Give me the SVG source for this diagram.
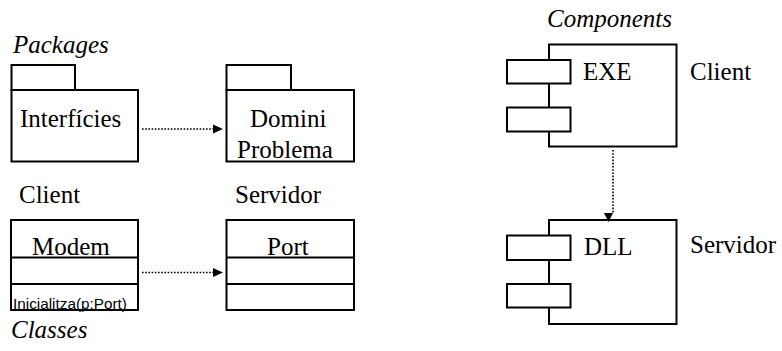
<svg xmlns="http://www.w3.org/2000/svg" width="782" height="351" viewBox="0 0 782 351">
  <rect width="782" height="351" fill="#fff"/>

  <!-- section titles and stereotype labels -->
  <text font-family="Liberation Serif" font-size="25" font-style="italic" x="13" y="53">Packages</text>
  <text font-family="Liberation Serif" font-size="25" x="19" y="203">Client</text>
  <text font-family="Liberation Serif" font-size="25" x="235" y="203">Servidor</text>
  <text font-family="Liberation Serif" font-size="25" font-style="italic" x="11" y="338">Classes</text>
  <text font-family="Liberation Serif" font-size="25" font-style="italic" x="547" y="27">Components</text>
  <text font-family="Liberation Serif" font-size="25" x="690" y="80">Client</text>
  <text font-family="Liberation Serif" font-size="25" x="690" y="253">Servidor</text>

  <!-- boxes share a 2px black outline on white -->
  <g fill="#fff" stroke="#000" stroke-width="2">
    <!-- package: Interfícies -->
    <g id="pkg-interficies">
      <rect x="11.5" y="65" width="63.5" height="25"/>
      <rect x="11.5" y="90" width="126.5" height="71.5"/>
      <text font-family="Liberation Serif" font-size="25" fill="#000" stroke="none" x="20" y="127">Interfícies</text>
    </g>

    <!-- package: Domini Problema -->
    <g id="pkg-domini">
      <rect x="226.5" y="65" width="64.5" height="25"/>
      <rect x="226.5" y="90" width="127.5" height="71.5"/>
      <text font-family="Liberation Serif" font-size="25" fill="#000" stroke="none" x="250" y="127">Domini</text>
      <text font-family="Liberation Serif" font-size="25" fill="#000" stroke="none" x="237" y="158">Problema</text>
    </g>

    <!-- class: Modem -->
    <g id="cls-modem">
      <rect x="11" y="220" width="127" height="90"/>
      <line x1="11" y1="257.5" x2="138" y2="257.5"/>
      <line x1="11" y1="284" x2="138" y2="284"/>
      <text font-family="Liberation Serif" font-size="25" fill="#000" stroke="none" x="32" y="255">Modem</text>
      <text font-family="Liberation Sans" font-size="15.3" fill="#000" stroke="none" x="13" y="309">Inicialitza(p:Port)</text>
    </g>

    <!-- class: Port -->
    <g id="cls-port">
      <rect x="226.5" y="220" width="127.5" height="90"/>
      <line x1="226.5" y1="257.5" x2="354" y2="257.5"/>
      <line x1="226.5" y1="284" x2="354" y2="284"/>
      <text font-family="Liberation Serif" font-size="25" fill="#000" stroke="none" x="267" y="255">Port</text>
    </g>

    <!-- component: EXE -->
    <g id="cmp-exe">
      <rect x="549" y="44.5" width="127.5" height="102"/>
      <rect x="507" y="60" width="63.5" height="23.5"/>
      <rect x="507" y="107.5" width="63.5" height="24"/>
      <text font-family="Liberation Serif" font-size="25" fill="#000" stroke="none" x="583" y="80">EXE</text>
    </g>

    <!-- component: DLL -->
    <g id="cmp-dll">
      <rect x="549" y="220" width="127.5" height="104"/>
      <rect x="507" y="235.5" width="63.5" height="24.5"/>
      <rect x="507" y="284" width="63.5" height="23.5"/>
      <text font-family="Liberation Serif" font-size="25" fill="#000" stroke="none" x="584" y="255">DLL</text>
    </g>
  </g>

  <!-- dependencies: dotted lines with filled arrowheads -->
  <g id="connectors">
    <g fill="none" stroke="#000" stroke-width="1.6" stroke-dasharray="1.6 1.6">
      <line x1="142" y1="129" x2="213" y2="129"/>
      <line x1="142" y1="272.5" x2="213" y2="272.5"/>
      <line x1="613" y1="150" x2="613" y2="213"/>
    </g>
    <g fill="#000">
      <path d="M213,124.5 L223,129 L213,133.5 Z"/>
      <path d="M213,268 L223,272.5 L213,277 Z"/>
      <path d="M604,213 L613,213 L608.5,222 Z"/>
    </g>
  </g>
</svg>
